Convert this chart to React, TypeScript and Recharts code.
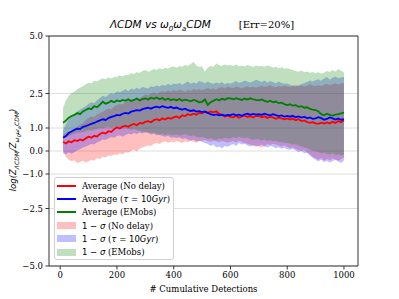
import React from 'react'
import { ComposedChart, Line, Area, XAxis, YAxis, CartesianGrid, ReferenceLine } from 'recharts'

// cumulative detections (x)
const detections = [
  10, 20, 30, 40, 50, 60, 70, 80, 90, 100,
  110, 120, 130, 140, 150, 160, 170, 180, 190, 200,
  210, 220, 230, 240, 250, 260, 270, 280, 290, 300,
  310, 320, 330, 340, 350, 360, 370, 380, 390, 400,
  410, 420, 430, 440, 450, 460, 470, 480, 490, 500,
  510, 520, 530, 540, 550, 560, 570, 580, 590, 600,
  610, 620, 630, 640, 650, 660, 670, 680, 690, 700,
  710, 720, 730, 740, 750, 760, 770, 780, 790, 800,
  810, 820, 830, 840, 850, 860, 870, 880, 890, 900,
  910, 920, 930, 940, 950, 960, 970, 980, 990, 1000,
]

// averages
const redMean = [
  0.40, 0.33, 0.42, 0.38, 0.47, 0.43, 0.50, 0.46, 0.55, 0.62,
  0.58, 0.66, 0.63, 0.74, 0.80, 0.76, 0.86, 0.83, 0.95, 1.03,
  0.98, 1.06, 1.10, 1.05, 1.13, 1.18, 1.12, 1.22, 1.19, 1.27,
  1.30, 1.25, 1.34, 1.38, 1.33, 1.42, 1.37, 1.45, 1.40, 1.46,
  1.50, 1.44, 1.55, 1.52, 1.60, 1.56, 1.62, 1.58, 1.66, 1.64,
  1.70, 1.66, 1.72, 1.68, 1.73, 1.62, 1.57, 1.50, 1.54, 1.48,
  1.46, 1.52, 1.45, 1.50, 1.55, 1.48, 1.52, 1.46, 1.53, 1.52,
  1.47, 1.51, 1.44, 1.49, 1.46, 1.40, 1.45, 1.42, 1.38, 1.42,
  1.37, 1.41, 1.34, 1.38, 1.30, 1.33, 1.26, 1.22, 1.25, 1.20,
  1.18, 1.23, 1.19, 1.24, 1.20, 1.27, 1.22, 1.30, 1.25, 1.33,
]
const blueMean = [
  0.58, 0.65, 0.78, 0.85, 0.92, 0.97, 0.95, 1.05, 1.08, 1.13,
  1.18, 1.22, 1.28, 1.33, 1.38, 1.35, 1.43, 1.48, 1.52, 1.57,
  1.55, 1.62, 1.66, 1.63, 1.71, 1.74, 1.78, 1.76, 1.82, 1.85,
  1.88, 1.84, 1.90, 1.93, 1.89, 1.95, 1.91, 1.88, 1.92, 1.86,
  1.89, 1.83, 1.80, 1.84, 1.78, 1.74, 1.77, 1.71, 1.73, 1.69,
  1.72, 1.66, 1.60, 1.56, 1.59, 1.55, 1.58, 1.54, 1.57, 1.56,
  1.60, 1.55, 1.58, 1.53, 1.59, 1.62, 1.57, 1.61, 1.58, 1.60,
  1.57, 1.62, 1.58, 1.55, 1.60, 1.56, 1.52, 1.55, 1.50, 1.53,
  1.49, 1.53, 1.47, 1.50, 1.45, 1.49, 1.42, 1.46, 1.40, 1.42,
  1.47, 1.43, 1.36, 1.40, 1.46, 1.42, 1.37, 1.41, 1.36, 1.38,
]
const greenMean = [
  1.23, 1.32, 1.45, 1.52, 1.57, 1.65, 1.60, 1.72, 1.78, 1.85,
  1.82, 1.95, 1.90, 2.02, 2.14, 2.05, 2.10, 2.18, 2.12, 2.20,
  2.16, 2.22, 2.18, 2.25, 2.17, 2.22, 2.28, 2.20, 2.26, 2.29,
  2.24, 2.32, 2.27, 2.33, 2.25, 2.30, 2.22, 2.28, 2.21, 2.25,
  2.20, 2.26, 2.18, 2.23, 2.20, 2.16, 2.22, 2.18, 2.12, 2.14,
  2.24, 2.00, 2.12, 2.18, 2.25, 2.20, 2.27, 2.23, 2.30, 2.29,
  2.25, 2.30, 2.26, 2.22, 2.28, 2.24, 2.29, 2.25, 2.22, 2.20,
  2.24, 2.18, 2.14, 2.19, 2.12, 2.15, 2.08, 2.10, 2.04, 2.00,
  2.03, 1.97, 1.99, 1.92, 1.95, 1.88, 1.90, 1.83, 1.80, 1.78,
  1.72, 1.60, 1.55, 1.62, 1.57, 1.54, 1.58, 1.60, 1.64, 1.67,
]

// 1-sigma bands
const redHigh = [
  0.70, 0.78, 0.85, 0.80, 0.95, 1.05, 1.15, 1.22, 1.35, 1.45,
  1.50, 1.48, 1.60, 1.65, 1.70, 1.78, 1.85, 1.82, 1.95, 2.00,
  2.05, 2.02, 2.12, 2.18, 2.20, 2.25, 2.30, 2.28, 2.38, 2.45,
  2.42, 2.50, 2.55, 2.48, 2.55, 2.60, 2.57, 2.62, 2.58, 2.65,
  2.60, 2.67, 2.63, 2.58, 2.66, 2.62, 2.70, 2.65, 2.68, 2.64,
  2.70, 2.74, 2.68, 2.72, 2.66, 2.75, 2.78, 2.72, 2.80, 2.76,
  2.74, 2.80, 2.77, 2.72, 2.78, 2.82, 2.76, 2.80, 2.75, 2.80,
  2.84, 2.78, 2.82, 2.86, 2.80, 2.77, 2.83, 2.79, 2.85, 2.81,
  2.78, 2.84, 2.88, 2.82, 2.86, 2.80, 2.84, 2.90, 2.85, 2.83,
  2.87, 2.82, 2.88, 2.92, 2.86, 2.90, 2.95, 2.89, 2.93, 2.96,
]
const redLow = [
  0.05, -0.25, -0.38, -0.45, -0.40, -0.52, -0.48, -0.42, -0.50, -0.45,
  -0.38, -0.42, -0.30, -0.35, -0.25, -0.28, -0.20, -0.22, -0.15, -0.17,
  -0.10, -0.15, -0.05, -0.08, 0.00, 0.05, -0.02, 0.10, 0.15, 0.20,
  0.25, 0.22, 0.32, 0.35, 0.30, 0.38, 0.42, 0.36, 0.40, 0.38,
  0.44, 0.40, 0.35, 0.42, 0.38, 0.45, 0.40, 0.36, 0.42, 0.45,
  0.48, 0.43, 0.40, 0.45, 0.42, 0.38, 0.44, 0.40, 0.36, 0.40,
  0.42, 0.38, 0.45, 0.40, 0.35, 0.32, 0.28, 0.22, 0.25, 0.20,
  0.15, 0.22, 0.30, 0.26, 0.32, 0.28, 0.24, 0.20, 0.25, 0.18,
  0.12, 0.16, 0.08, 0.04, 0.00, 0.05, -0.05, -0.15, -0.25, -0.32,
  -0.38, -0.30, -0.42, -0.35, -0.40, -0.32, -0.38, -0.42, -0.35, -0.28,
]
const blueHigh = [
  0.90, 1.15, 1.38, 1.50, 1.62, 1.72, 1.80, 1.88, 1.95, 2.05,
  2.12, 2.08, 2.22, 2.30, 2.40, 2.35, 2.45, 2.52, 2.48, 2.60,
  2.55, 2.62, 2.68, 2.60, 2.72, 2.66, 2.75, 2.70, 2.78, 2.75,
  2.72, 2.82, 2.78, 2.85, 2.80, 2.88, 2.84, 2.92, 2.86, 2.94,
  2.90, 2.96, 2.88, 2.95, 3.02, 2.92, 2.98, 2.94, 3.04, 3.00,
  2.95, 3.02, 2.96, 2.92, 2.98, 2.94, 3.00, 2.90, 2.96, 2.94,
  2.98, 3.04, 2.96, 3.00, 3.06, 3.02, 2.97, 3.03, 3.10, 3.05,
  3.00, 3.06, 2.98, 3.04, 3.00, 2.95, 3.02, 2.96, 2.92, 2.94,
  2.88, 2.84, 2.80, 2.86, 2.90, 2.96, 3.00, 3.06, 3.02, 3.09,
  3.12, 3.05, 3.15, 3.22, 3.10, 3.18, 3.24, 3.16, 3.20, 3.23,
]
const blueLow = [
  -0.10, -0.15, -0.05, -0.12, -0.05, 0.02, 0.08, 0.15, 0.20, 0.25,
  0.30, 0.28, 0.38, 0.42, 0.50, 0.48, 0.55, 0.60, 0.58, 0.65,
  0.68, 0.62, 0.70, 0.75, 0.72, 0.78, 0.74, 0.80, 0.76, 0.80,
  0.78, 0.72, 0.75, 0.68, 0.70, 0.65, 0.62, 0.66, 0.58, 0.60,
  0.56, 0.60, 0.52, 0.55, 0.50, 0.46, 0.50, 0.42, 0.45, 0.40,
  0.35, 0.30, 0.22, 0.28, 0.15, 0.20, 0.12, 0.22, 0.18, 0.25,
  0.30, 0.22, 0.35, 0.28, 0.32, 0.24, 0.20, 0.26, 0.18, 0.22,
  0.28, 0.20, 0.15, 0.22, 0.18, 0.12, 0.16, 0.10, 0.14, 0.08,
  0.05, 0.10, 0.02, -0.05, 0.00, -0.10, -0.08, -0.20, -0.30, -0.38,
  -0.45, -0.38, -0.48, -0.42, -0.50, -0.44, -0.38, -0.46, -0.52, -0.40,
]
const greenHigh = [
  1.87, 2.20, 2.40, 2.52, 2.58, 2.68, 2.75, 2.82, 2.90, 2.97,
  2.95, 3.05, 3.02, 3.10, 3.16, 3.12, 3.20, 3.15, 3.22, 3.23,
  3.28, 3.25, 3.32, 3.30, 3.38, 3.35, 3.42, 3.40, 3.48, 3.52,
  3.45, 3.50, 3.56, 3.52, 3.60, 3.55, 3.62, 3.58, 3.65, 3.67,
  3.62, 3.70, 3.66, 3.74, 3.70, 3.78, 3.88, 3.72, 3.65, 3.67,
  3.45, 3.62, 3.70, 3.66, 3.80, 3.74, 3.70, 3.76, 3.72, 3.74,
  3.70, 3.76, 3.68, 3.72, 3.67, 3.74, 3.70, 3.65, 3.72, 3.68,
  3.70, 3.66, 3.72, 3.68, 3.62, 3.66, 3.60, 3.64, 3.58, 3.60,
  3.56, 3.52, 3.48, 3.45, 3.50, 3.42, 3.46, 3.40, 3.44, 3.38,
  3.42, 3.36, 3.40, 3.48, 3.44, 3.52, 3.46, 3.55, 3.50, 3.40,
]
const greenLow = [
  0.55, 0.60, 0.65, 0.70, 0.75, 0.78, 0.82, 0.80, 0.86, 0.90,
  0.88, 0.94, 0.96, 1.00, 0.98, 1.02, 1.05, 1.00, 1.04, 1.05,
  1.02, 0.98, 1.00, 0.95, 0.92, 0.96, 0.90, 0.88, 0.84, 0.85,
  0.82, 0.78, 0.80, 0.75, 0.72, 0.76, 0.70, 0.74, 0.68, 0.70,
  0.72, 0.66, 0.70, 0.74, 0.68, 0.64, 0.68, 0.62, 0.60, 0.62,
  0.58, 0.52, 0.56, 0.50, 0.48, 0.55, 0.52, 0.58, 0.54, 0.55,
  0.60, 0.56, 0.62, 0.58, 0.55, 0.60, 0.52, 0.48, 0.52, 0.50,
  0.46, 0.50, 0.44, 0.48, 0.42, 0.45, 0.40, 0.38, 0.36, 0.35,
  0.32, 0.28, 0.30, 0.24, 0.20, 0.15, 0.12, 0.06, 0.02, 0.00,
  -0.05, -0.10, -0.08, -0.12, -0.15, -0.10, -0.18, -0.14, -0.20, -0.15,
]

const xTicks = [0, 200, 400, 600, 800, 1000]
const yTicks = [-5, -2.5, -1, 0, 1, 2.5, 5]

const RED = '#ff0000'
const BLUE = '#0000ff'
const GREEN = '#008000'
const SERIF = '"DejaVu Serif", serif'
const SANS = '"DejaVu Sans", sans-serif'

const data = detections.map((x, i) => ({
  x,
  red: redMean[i],
  blue: blueMean[i],
  green: greenMean[i],
  redBand: [redLow[i], redHigh[i]],
  blueBand: [blueLow[i], blueHigh[i]],
  greenBand: [greenLow[i], greenHigh[i]],
}))

const m = (s: React.ReactNode) => <span style={{ fontFamily: SANS }}>{s}</span>

const legendItems = [
  { kind: 'line', color: RED, label: <>Average (No delay)</> },
  { kind: 'line', color: BLUE, label: <>Average ({m(<><i>τ</i> = 10<i>Gyr</i></>)})</> },
  { kind: 'line', color: GREEN, label: <>Average (EMobs)</> },
  { kind: 'patch', color: RED, label: <>{m(<>1 − <i>σ</i></>)} (No delay)</> },
  { kind: 'patch', color: BLUE, label: <>{m(<>1 − <i>σ</i></>)} ({m(<><i>τ</i> = 10<i>Gyr</i></>)})</> },
  { kind: 'patch', color: GREEN, label: <>{m(<>1 − <i>σ</i></>)} (EMobs)</> },
]

function LegendBox() {
  return (
    <div style={{ position: 'absolute', left: 54, top: 177, width: 118, height: 80, paddingTop: 1, background: 'rgba(255,255,255,0.85)', border: '1px solid #d0d0d0', borderRadius: 3 }}>
      {legendItems.map((it, i) => (
        <div key={i} style={{ display: 'flex', alignItems: 'center', height: 13.3, fontFamily: SERIF, fontSize: 8.5, color: '#000', whiteSpace: 'nowrap' }}>
          <div style={{ width: 19, marginLeft: 2, marginRight: 6, display: 'flex', alignItems: 'center' }}>
            {it.kind === 'line'
              ? <div style={{ width: 19, height: 2, background: it.color }} />
              : <div style={{ width: 19, height: 7, background: it.color, opacity: 0.25 }} />}
          </div>
          <span>{it.label}</span>
        </div>
      ))}
    </div>
  )
}

const fmt = (v: number) => v.toFixed(1).replace('-', '\u2212')
const tickStyle = { fontSize: 8.5, fill: '#000', fontFamily: SERIF }

export default function App() {
  return (
    <div style={{ position: 'absolute', left: 0, top: 0, width: 399, height: 299, background: '#fff' }}>
      <ComposedChart width={399} height={299} data={data} margin={{ top: 36, right: 41, bottom: 0, left: 0 }}>
        <CartesianGrid vertical={false} stroke="#dedede" strokeWidth={1} />
        <XAxis
          type="number"
          dataKey="x"
          domain={[-39.5, 1049.5]}
          ticks={xTicks}
          allowDataOverflow
          height={33}
          tick={tickStyle}
          tickSize={3.5}
          tickMargin={2}
          axisLine={{ stroke: '#333' }}
          tickLine={{ stroke: '#333' }}
          label={{ value: '# Cumulative Detections', position: 'insideBottom', offset: 7, fontSize: 8.5, fill: '#000', fontFamily: SERIF }}
        />
        <YAxis
          type="number"
          domain={[-5, 5]}
          ticks={yTicks}
          allowDataOverflow
          width={49}
          tickFormatter={fmt}
          tick={tickStyle}
          tickSize={3.5}
          tickMargin={2.5}
          axisLine={{ stroke: '#333' }}
          tickLine={{ stroke: '#333' }}
        />
        <ReferenceLine y={5} stroke="#333" />
        <ReferenceLine x={1049.5} stroke="#333" />
        <Area type="linear" dataKey="redBand" fill={RED} fillOpacity={0.25} stroke="none" isAnimationActive={false} />
        <Area type="linear" dataKey="blueBand" fill={BLUE} fillOpacity={0.25} stroke="none" isAnimationActive={false} />
        <Area type="linear" dataKey="greenBand" fill={GREEN} fillOpacity={0.25} stroke="none" isAnimationActive={false} />
        <Line type="linear" dataKey="red" stroke={RED} strokeWidth={1.8} dot={false} isAnimationActive={false} />
        <Line type="linear" dataKey="blue" stroke={BLUE} strokeWidth={1.8} dot={false} isAnimationActive={false} />
        <Line type="linear" dataKey="green" stroke={GREEN} strokeWidth={1.8} dot={false} isAnimationActive={false} />
      </ComposedChart>
      <div style={{ position: 'absolute', left: 0, top: 17, width: 399, textAlign: 'center', fontSize: 10.5, whiteSpace: 'nowrap', lineHeight: '14px' }}>
        <span style={{ fontFamily: SANS, fontStyle: 'italic', marginLeft: 5 }}>ΛCDM vs ω<sub style={{ fontSize: 7 }}>0</sub>ω<sub style={{ fontSize: 7 }}>a</sub>CDM</span>
        <span style={{ fontFamily: SERIF, fontSize: 10, marginLeft: 28 }}>[Err=20%]</span>
      </div>
      <div style={{ position: 'absolute', left: 15, top: 150, transform: 'translate(-50%, -50%) rotate(-90deg)', fontFamily: SANS, fontStyle: 'italic', fontSize: 8.5, whiteSpace: 'nowrap' }}>
        log(Z<sub style={{ fontSize: 6 }}>ΛCDM</sub>/Z<sub style={{ fontSize: 6 }}>ω<sub style={{ fontSize: 5 }}>0</sub>ω<sub style={{ fontSize: 5 }}>a</sub>CDM</sub>)
      </div>
      <LegendBox />
    </div>
  )
}
